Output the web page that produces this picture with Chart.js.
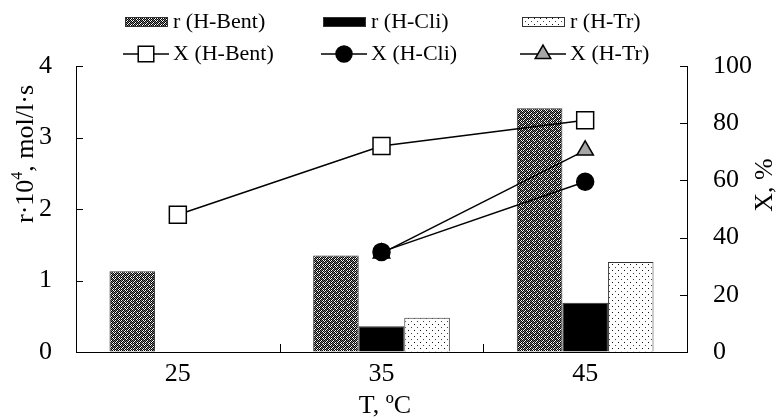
<!DOCTYPE html>
<html>
<head>
<meta charset="utf-8">
<script src="https://cdn.jsdelivr.net/npm/chart.js@4"></script>
<style>
  html, body { margin: 0; padding: 0; background: #fff; }
  #wrap { width: 776px; height: 420px; }
</style>
</head>
<body>
<div id="wrap"><canvas id="chart" width="776" height="420"></canvas></div>
<script>
/* --------------- Data --------------------- */

const temps = ["25", "35", "45"];

const rBent = [1.13, 1.35, 3.41];
const rCli = [null, 0.36, 0.69];
const rTr = [null, 0.48, 1.26];

const xBent = [48, 72, 81];
const xCli = [null, 35, 59.5];
const xTr = [null, 34.5, 70.5];

const leftTicks = [0, 1, 2, 3, 4];
const rightTicks = [0, 20, 40, 60, 80, 100];

const FONT = "'Liberation Serif', 'Times New Roman', serif";

/* --------------- Fill Patterns --------------------- */

function makeTile(rows, colors) {
  const c = document.createElement("canvas");
  c.width = rows[0].length;
  c.height = rows.length;
  const g = c.getContext("2d");
  rows.forEach((row, y) => {
    for (let x = 0; x < row.length; x++) {
      g.fillStyle = colors[row[x]];
      g.fillRect(x, y, 1, 1);
    }
  });
  return g.createPattern(c, "repeat");
}

const bentPattern = makeTile(
  [
    "KWKGKW",
    "GKGKWK",
    "KWKGKW",
    "WKGKGK",
    "KGKWKG",
    "GKWKGK",
  ],
  { K: "#000", W: "#fff", G: "#7a7a7a" }
);

const trPattern = makeTile(
  [
    "KWWWWW",
    "WWWWWW",
    "WWWWWW",
    "WWWGWW",
    "WWWWWW",
    "WWWWWW",
  ],
  { K: "#111", W: "#fff", G: "#444" }
);

/* --------------- Plugins --------------------- */

const innerTicks = {
  id: "innerTicks",
  afterDraw(chart) {
    const ctx = chart.ctx;
    const { y, y1, x } = chart.scales;
    ctx.save();
    ctx.strokeStyle = "#000";
    ctx.lineWidth = 1;
    ctx.beginPath();
    leftTicks.forEach((v) => {
      const py = Math.round(y.getPixelForValue(v)) + 0.5;
      ctx.moveTo(x.left, py);
      ctx.lineTo(x.left + 7, py);
    });
    rightTicks.forEach((v) => {
      const py = Math.round(y1.getPixelForValue(v)) + 0.5;
      ctx.moveTo(x.right, py);
      ctx.lineTo(x.right - 7, py);
    });
    for (let i = 1; i < temps.length; i++) {
      const px = Math.round((x.getPixelForValue(i - 1) + x.getPixelForValue(i)) / 2) + 0.5;
      ctx.moveTo(px, y.bottom);
      ctx.lineTo(px, y.bottom - 8);
    }
    ctx.stroke();
    ctx.restore();
  },
};

const axisTitles = {
  id: "axisTitles",
  afterDraw(chart) {
    const ctx = chart.ctx;
    ctx.save();
    ctx.fillStyle = "#000";
    ctx.textBaseline = "middle";

    // left title: r·10⁴, mol/l·s
    ctx.translate(26, 154);
    ctx.rotate(-Math.PI / 2);
    const a = "r·10";
    const b = ", mol/l·s";
    ctx.font = "26px " + FONT;
    const wa = ctx.measureText(a).width;
    const wb = ctx.measureText(b).width;
    ctx.font = "16px " + FONT;
    const ws = ctx.measureText("4").width;
    let sx = -(wa + ws + wb) / 2;
    ctx.textAlign = "left";
    ctx.font = "26px " + FONT;
    ctx.fillText(a, sx, 0);
    ctx.font = "16px " + FONT;
    ctx.fillText("4", sx + wa, -8);
    ctx.font = "26px " + FONT;
    ctx.fillText(b, sx + wa + ws, 0);
    ctx.setTransform(1, 0, 0, 1, 0, 0);

    // right title
    ctx.translate(765, 185);
    ctx.rotate(-Math.PI / 2);
    ctx.textAlign = "center";
    ctx.fillText("X, %", 0, 0);
    ctx.setTransform(1, 0, 0, 1, 0, 0);

    // bottom title
    ctx.textAlign = "center";
    ctx.fillText("T, ºC", 385, 406);
    ctx.restore();
  },
};

const gridLegend = {
  id: "gridLegend",
  afterDraw(chart) {
    const ctx = chart.ctx;
    const cols = [125, 323, 522];
    const rowY = [22, 54];
    const ds = chart.data.datasets;
    ctx.save();
    ctx.font = "22px " + FONT;
    ctx.textBaseline = "middle";
    ctx.textAlign = "left";
    ds.forEach((d, i) => {
      const col = cols[i % 3];
      const row = rowY[Math.floor(i / 3)];
      if (d.type === "bar") {
        ctx.fillStyle = d.backgroundColor;
        ctx.fillRect(col, row - 5, 43, 10);
        ctx.strokeStyle = "#333";
        ctx.lineWidth = 1;
        ctx.strokeRect(col + 0.5, row - 4.5, 42, 9);
      } else {
        ctx.strokeStyle = "#000";
        ctx.lineWidth = 1.5;
        ctx.beginPath();
        ctx.moveTo(col - 2, row);
        ctx.lineTo(col + 44, row);
        ctx.stroke();
        ctx.fillStyle = d.pointBackgroundColor;
        Chart.helpers.drawPoint(
          ctx,
          { pointStyle: d.pointStyle, radius: d.legendRadius, borderWidth: 1.5 },
          col + 21,
          row
        );
      }
      ctx.fillStyle = "#000";
      ctx.fillText(d.label, col + 48, row);
    });
    ctx.restore();
  },
};

/* --------------- Chart --------------------- */

const barBase = {
  type: "bar",
  yAxisID: "y",
  borderColor: "#333",
  borderWidth: 1,
  barPercentage: 1,
  categoryPercentage: 0.671,
  order: 1,
};

const lineBase = {
  type: "line",
  yAxisID: "y1",
  borderColor: "#000",
  borderWidth: 1.5,
  pointBorderColor: "#000",
  pointBorderWidth: 1.5,
  tension: 0,
  spanGaps: false,
  order: 0,
};

new Chart(document.getElementById("chart"), {
  data: {
    labels: temps,
    datasets: [
      { ...barBase, label: "r (H-Bent)", data: rBent, backgroundColor: bentPattern },
      { ...barBase, label: "r (H-Cli)", data: rCli, backgroundColor: "#000" },
      { ...barBase, label: "r (H-Tr)", data: rTr, backgroundColor: trPattern },
      {
        ...lineBase,
        label: "X (H-Bent)",
        data: xBent,
        pointStyle: "rect",
        pointRadius: 12,
        legendRadius: 11,
        pointBackgroundColor: "#fff",
      },
      {
        ...lineBase,
        label: "X (H-Cli)",
        data: xCli,
        pointStyle: "circle",
        pointRadius: 8.5,
        legendRadius: 8,
        pointBackgroundColor: "#000",
      },
      {
        ...lineBase,
        label: "X (H-Tr)",
        data: xTr,
        pointStyle: "triangle",
        pointRadius: 9.5,
        legendRadius: 9,
        pointBackgroundColor: "#a6a6a6",
      },
    ],
  },
  plugins: [innerTicks, axisTitles, gridLegend],
  options: {
    responsive: false,
    animation: false,
    layout: { padding: { top: 66, left: 0, right: 0, bottom: 0 } },
    plugins: {
      legend: { display: false },
      tooltip: { enabled: false },
    },
    scales: {
      x: {
        offset: true,
        grid: { display: true, drawOnChartArea: false, drawTicks: false },
        border: { display: true, color: "#000", width: 1 },
        ticks: { color: "#000", padding: 7, font: { family: FONT, size: 26 } },
        afterFit: (s) => { s.height = 68; },
      },
      y: {
        position: "left",
        min: 0,
        max: 4,
        afterBuildTicks: (s) => { s.ticks = leftTicks.map((v) => ({ value: v })); },
        grid: { display: true, drawOnChartArea: false, drawTicks: false },
        border: { display: true, color: "#000", width: 1 },
        ticks: { color: "#000", padding: 24, font: { family: FONT, size: 26 } },
        afterFit: (s) => { s.width = 76; },
      },
      y1: {
        position: "right",
        min: 0,
        max: 100,
        afterBuildTicks: (s) => { s.ticks = rightTicks.map((v) => ({ value: v })); },
        grid: { display: true, drawOnChartArea: false, drawTicks: false },
        border: { display: true, color: "#000", width: 1 },
        ticks: { color: "#000", padding: 26, font: { family: FONT, size: 26 } },
        afterFit: (s) => { s.width = 89; },
      },
    },
  },
});
</script>
</body>
</html>
